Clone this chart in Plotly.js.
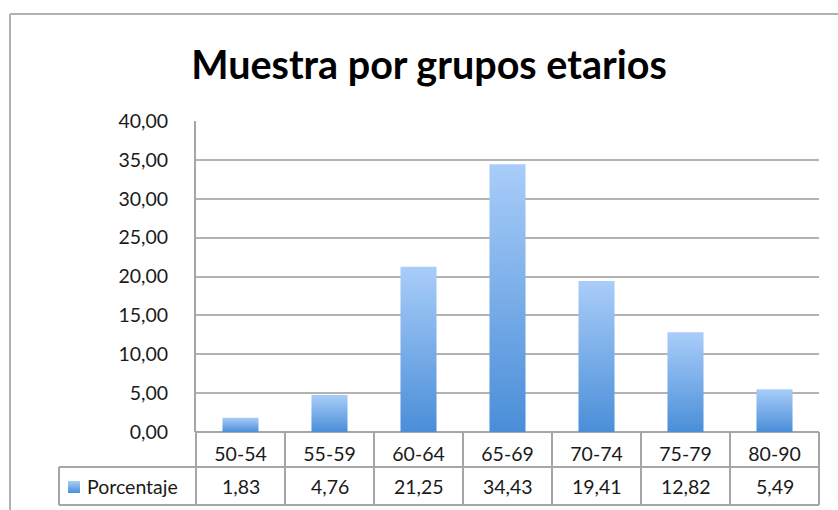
<!DOCTYPE html>
<html>
<head>
<meta charset="utf-8">
<script src="https://cdn.plot.ly/plotly-3.0.1.min.js"></script>
<style>html,body{margin:0;padding:0;background:#fff;}#chart{width:838px;height:510px;}</style>
</head>
<body>
<div id="chart"></div>
<script>
const categories = ['50-54', '55-59', '60-64', '65-69', '70-74', '75-79', '80-90'];
const porcentaje = [1.83, 4.76, 21.25, 34.43, 19.41, 12.82, 5.49];
const seriesName = 'Porcentaje';
const chartTitle = 'Muestra por grupos etarios';

const W = 838, H = 510;
const L = 196, R = 819, T = 121, B = 432;
const PW = R - L, PH = B - T;
const px = v => (v - L) / PW;
const py = v => (B - v) / PH;
const FONT = 'Lato, "Open Sans", sans-serif';
const TXT = '#1a1a1a';
const LINE = '#a6a6a6';
const n = categories.length;

const fmt = v => v.toFixed(2).replace('.', ',');

const shapes = [];
function line(x0, y0, x1, y1, color, width) {
  shapes.push({type: 'line', xref: 'paper', yref: 'paper', x0: x0, y0: y0, x1: x1, y1: y1,
    line: {color: color || LINE, width: width || 2}});
}
// outer chart border (left and top)
line(px(10), py(14), px(10), py(560), '#b0b0b0', 2);
line(px(10), py(14), px(900), py(14), '#b0b0b0', 2);
// data table lines
line(0, py(467), 1, py(467));
line(px(59), py(467), px(59), py(505));
line(px(59), py(467), 0, py(467));
line(px(59), py(505), 1, py(505));
line(0, 0, 0, py(505));
for (let i = 1; i <= n; i++) line(i / n, 0, i / n, py(505));
// legend key square
shapes.push({type: 'rect', xref: 'paper', yref: 'paper', x0: px(68), x1: px(80), y0: py(481), y1: py(493),
  line: {width: 0}, fillcolor: '#7aaeea', name: 'legendkey'});

const annotations = porcentaje.map((v, i) => ({
  xref: 'x', yref: 'paper', x: categories[i], y: py(486), text: fmt(v), showarrow: false,
  xanchor: 'center', yanchor: 'middle', font: {family: FONT, size: 19.5, color: TXT}
}));
annotations.push({xref: 'paper', yref: 'paper', x: px(85), y: py(486), text: seriesName, showarrow: false,
  xanchor: 'left', yanchor: 'middle', font: {family: FONT, size: 19.5, color: TXT}});

const trace = {
  type: 'bar', x: categories, y: porcentaje, name: seriesName,
  marker: {color: '#77aae8', line: {width: 0}}, hoverinfo: 'none', showlegend: false
};

const layout = {
  width: W, height: H,
  margin: {l: L, r: W - R, t: T, b: H - B, pad: 0},
  paper_bgcolor: '#ffffff', plot_bgcolor: '#ffffff',
  separators: ',.',
  bargap: 0.595,
  showlegend: false,
  title: {text: chartTitle, font: {family: FONT, size: 39.5, color: '#000', weight: 'bold'},
    xref: 'container', yref: 'container', x: 429 / W, xanchor: 'center', y: 1 - 65 / H, yanchor: 'middle'},
  xaxis: {type: 'category', showgrid: false, zeroline: false, showline: false, ticks: '',
    tickfont: {family: FONT, size: 19.5, color: TXT}, ticklabelstandoff: 8, fixedrange: true},
  yaxis: {range: [0, 40], dtick: 5, tick0: 0, tickformat: '.2f', showgrid: true, gridcolor: '#b3b3b3', gridwidth: 2,
    zeroline: true, zerolinecolor: LINE, zerolinewidth: 2, showline: true, linecolor: LINE, linewidth: 2,
    ticks: '', ticklabelstandoff: 22, tickfont: {family: FONT, size: 19.5, color: TXT}, fixedrange: true},
  shapes: shapes,
  annotations: annotations
};

Plotly.newPlot('chart', [trace], layout, {displayModeBar: false, staticPlot: true}).then(gd => {
  const svg = gd.querySelector('svg.main-svg');
  const ns = 'http://www.w3.org/2000/svg';
  let defs = svg.querySelector('defs');
  if (!defs) { defs = document.createElementNS(ns, 'defs'); svg.insertBefore(defs, svg.firstChild); }
  const grad = document.createElementNS(ns, 'linearGradient');
  grad.setAttribute('id', 'barGrad');
  grad.setAttribute('x1', '0'); grad.setAttribute('y1', '0');
  grad.setAttribute('x2', '0'); grad.setAttribute('y2', '1');
  [['0', '#a9cdf9'], ['1', '#4a8ed8']].forEach(([o, c]) => {
    const s = document.createElementNS(ns, 'stop');
    s.setAttribute('offset', o); s.setAttribute('stop-color', c);
    grad.appendChild(s);
  });
  defs.appendChild(grad);
  gd.querySelectorAll('.barlayer .point path').forEach(p => { p.style.fill = 'url(#barGrad)'; });
  const sh = gd.querySelectorAll('.shapelayer path');
  if (sh.length) { const last = sh[sh.length - 1]; last.style.fill = 'url(#barGrad)'; last.style.fillOpacity = 1; }
});
</script>
</body>
</html>
